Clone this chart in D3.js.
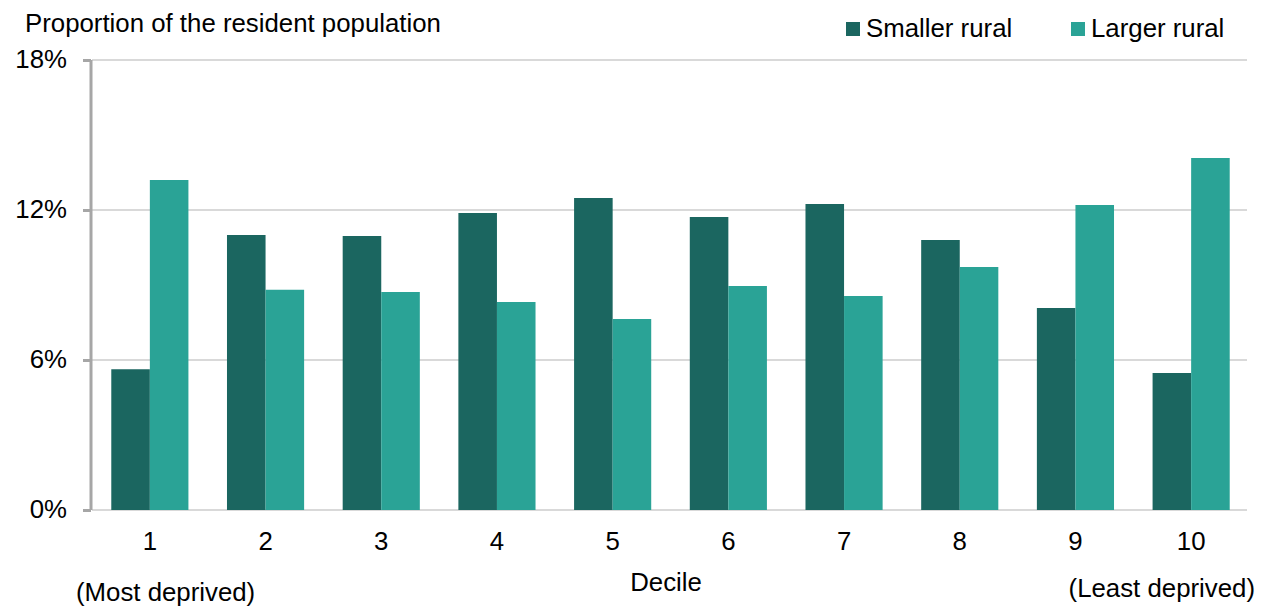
<!DOCTYPE html>
<html><head><meta charset="utf-8">
<script src="https://cdn.jsdelivr.net/npm/d3@7"></script>
<style>body{margin:0;background:#fff}svg{display:block;font-family:"Liberation Sans",Arial,sans-serif}</style>
</head><body>
<svg id="c" width="1264" height="608"></svg>
<script>
const deciles = ["1","2","3","4","5","6","7","8","9","10"];
const seriesNames = ["Smaller rural","Larger rural"];
const smallerRural = [5.63, 11.0, 10.96, 11.88, 12.48, 11.72, 12.24, 10.8, 8.08, 5.48];
const largerRural = [13.2, 8.81, 8.72, 8.32, 7.64, 8.96, 8.56, 9.72, 12.2, 14.08];
const yTicks = [0, 6, 12, 18];
const colors = ["#1b6660", "#2aa396"];
const FS = 25.8;

const svg = d3.select("#c");
const x = d3.scaleBand().domain(deciles).range([92, 1249]).paddingInner(1/3).paddingOuter(1/6);
const xs = d3.scaleBand().domain(seriesNames).range([0, x.bandwidth()]);
const y = d3.scaleLinear().domain([0, 18]).range([510, 60]);

// gridlines
svg.append("g").selectAll("line").data(yTicks).join("line")
  .attr("x1", 92).attr("x2", 1247).attr("y1", d => y(d)).attr("y2", d => y(d))
  .attr("stroke", "#d9d9d9").attr("stroke-width", 2);

// bars
const series = [smallerRural, largerRural];
series.forEach((vals, si) => {
  svg.append("g").selectAll("rect").data(vals).join("rect")
    .attr("x", (d, i) => x(deciles[i]) + xs(seriesNames[si]))
    .attr("width", xs.bandwidth())
    .attr("y", d => y(d))
    .attr("height", d => y(0) - y(d))
    .attr("fill", colors[si]);
});

// y axis
const yAxis = d3.axisLeft(y).tickValues(yTicks).tickFormat(d => d + "%").tickSize(8).tickPadding(16);
const ga = svg.append("g").attr("transform", "translate(91,0)").call(yAxis);
ga.select(".domain").attr("stroke", "#a6a6a6").attr("stroke-width", 3).attr("d", "M0,60V510");
ga.selectAll(".tick line").attr("stroke", "#a6a6a6").attr("stroke-width", 3);
ga.selectAll("text").attr("font-size", FS).attr("fill", "#000").attr("font-family", "Liberation Sans, Arial, sans-serif").attr("dy", "0.3em");

// x axis labels
const xAxis = d3.axisBottom(x).tickSize(0).tickPadding(22);
const gx = svg.append("g").attr("transform", "translate(0,510)").call(xAxis);
gx.select(".domain").remove();
gx.selectAll("text").attr("font-size", FS).attr("fill", "#000").attr("font-family", "Liberation Sans, Arial, sans-serif");

svg.append("text").attr("x", 666).attr("y", 591).attr("text-anchor", "middle").attr("font-size", FS).text("Decile");
svg.append("text").attr("x", 76).attr("y", 601).attr("font-size", FS).text("(Most deprived)");
svg.append("text").attr("x", 1255).attr("y", 597).attr("text-anchor", "end").attr("font-size", FS).text("(Least deprived)");

// title
svg.append("text").attr("x", 25).attr("y", 32).attr("font-size", FS).text("Proportion of the resident population");

// legend
const legX = [846, 1071];
seriesNames.forEach((n, i) => {
  svg.append("rect").attr("x", legX[i]).attr("y", 22).attr("width", 14).attr("height", 14).attr("fill", colors[i]);
  svg.append("text").attr("x", legX[i] + 20).attr("y", 37).attr("font-size", FS).text(n);
});
</script>
</body></html>
